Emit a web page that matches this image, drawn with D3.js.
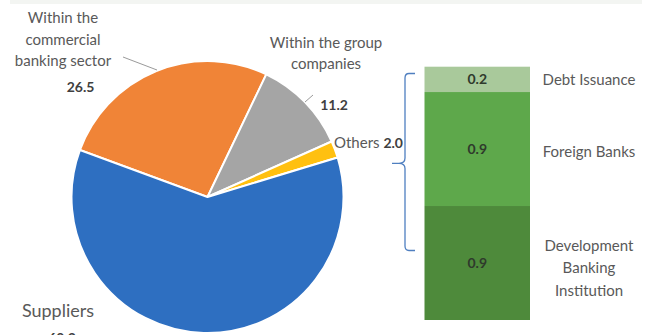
<!DOCTYPE html>
<html>
<head>
<meta charset="utf-8">
<script src="https://cdn.jsdelivr.net/npm/d3@7"></script>
<style>
  body { margin: 0; background: #fff; }
  svg { display: block; font-family: Lato, "Open Sans", sans-serif; }
</style>
</head>
<body>
<div id="chart"></div>
<script>
// pie data
const pieNames = ["Within the commercial banking sector", "Within the group companies", "Others", "Suppliers"];
const pieValues = [26.5, 11.2, 2.0, 60.3];
const pieColors = ["#F08437", "#A5A5A5", "#FFC010", "#2E6FC1"];

// stacked bar data (bottom to top)
const barNames = ["Development Banking Institution", "Foreign Banks", "Debt Issuance"];
const barValues = [0.9, 0.9, 0.2];
const barColors = ["#4E8A3B", "#5EA84B", "#A9C99B"];

const width = 652, height = 335;

const svg = d3.select("#chart").append("svg")
    .attr("width", width)
    .attr("height", height);

// faint strip at the very top
svg.append("rect")
    .attr("x", 10).attr("y", 0).attr("width", 632).attr("height", 4)
    .attr("fill", "#f3f5f2");

// ---- pie ----
const cx = 207.5, cy = 197, radius = 136;
const startDeg = -69.8;

const pie = d3.pie()
    .sort(null)
    .value(d => d.value)
    .startAngle(startDeg * Math.PI / 180)
    .endAngle(startDeg * Math.PI / 180 + 2 * Math.PI);

const arc = d3.arc().innerRadius(0).outerRadius(radius);

const pieData = pie(pieNames.map((n, i) => ({ name: n, value: pieValues[i], color: pieColors[i] })));

const pieG = svg.append("g").attr("transform", `translate(${cx},${cy})`);
pieG.selectAll("path")
    .data(pieData)
    .join("path")
    .attr("d", arc)
    .attr("fill", d => d.data.color)
    .attr("stroke", "#fff")
    .attr("stroke-width", 2)
    .attr("stroke-linejoin", "round");

// pie labels (placed the way the original chart had them)
const labelColor = "#595959";
const valueColor = "#404040";

function multiLine(lines, x, y0, lh, size) {
    const t = svg.append("text")
        .attr("text-anchor", "middle")
        .attr("font-size", size)
        .attr("fill", labelColor);
    lines.forEach((l, i) => {
        t.append("tspan").attr("x", x).attr("y", y0 + i * lh).text(l);
    });
}

multiLine(["Within the", "commercial", "banking sector"], 63, 23, 21.7, 15);
svg.append("text")
    .attr("x", 80.5).attr("y", 92)
    .attr("text-anchor", "middle")
    .attr("font-size", 14).attr("font-weight", "bold")
    .attr("fill", valueColor)
    .text(d3.format(".1f")(pieValues[0]));
svg.append("line")
    .attr("x1", 123).attr("y1", 57).attr("x2", 157).attr("y2", 70)
    .attr("stroke", "#9a9a9a").attr("stroke-width", 1);

multiLine(["Within the group", "companies"], 326, 48, 20.5, 15);
svg.append("text")
    .attr("x", 334).attr("y", 110)
    .attr("text-anchor", "middle")
    .attr("font-size", 14).attr("font-weight", "bold")
    .attr("fill", valueColor)
    .text(d3.format(".1f")(pieValues[1]));
svg.append("line")
    .attr("x1", 305).attr("y1", 102).attr("x2", 313).attr("y2", 95)
    .attr("stroke", "#9a9a9a").attr("stroke-width", 1);

const othersT = svg.append("text")
    .attr("x", 334).attr("y", 148)
    .attr("font-size", 15)
    .attr("fill", labelColor);
othersT.append("tspan").text(pieNames[2] + " ");
othersT.append("tspan")
    .attr("font-weight", "bold").attr("font-size", 14).attr("fill", valueColor)
    .text(d3.format(".1f")(pieValues[2]));

svg.append("text")
    .attr("x", 58).attr("y", 317)
    .attr("text-anchor", "middle")
    .attr("font-size", 18)
    .attr("fill", labelColor)
    .text(pieNames[3]);
svg.append("text")
    .attr("x", 62).attr("y", 343)
    .attr("text-anchor", "middle")
    .attr("font-size", 14).attr("font-weight", "bold")
    .attr("fill", valueColor)
    .text(d3.format(".1f")(pieValues[3]));

// ---- stacked bar ----
const total = d3.sum(barValues);
const y = d3.scaleLinear().domain([0, total]).range([320, 66.7]);
const barX = 424.5, barW = 105.5;

let acc = 0;
const segs = barValues.map((v, i) => {
    const s = { name: barNames[i], value: v, color: barColors[i], y0: acc, y1: acc + v };
    acc += v;
    return s;
});

svg.selectAll("rect.seg")
    .data(segs)
    .join("rect")
    .attr("class", "seg")
    .attr("x", barX)
    .attr("y", d => y(d.y1))
    .attr("width", barW)
    .attr("height", d => y(d.y0) - y(d.y1))
    .attr("fill", d => d.color);

svg.selectAll("text.segval")
    .data(segs)
    .join("text")
    .attr("class", "segval")
    .attr("x", barX + barW / 2)
    .attr("y", d => (y(d.y0) + y(d.y1)) / 2 + 5)
    .attr("text-anchor", "middle")
    .attr("font-size", 14).attr("font-weight", "bold")
    .attr("fill", "#2f3a2c")
    .text(d => d3.format(".1f")(d.value));

// category names to the right of the bar
const nameLines = [["Development", "Banking", "Institution"], ["Foreign Banks"], ["Debt Issuance"]];
const nameShift = [5, 3, 1];
segs.forEach((d, i) => {
    const lines = nameLines[i];
    const mid = (y(d.y0) + y(d.y1)) / 2 + nameShift[i];
    const lh = 22.5;
    const t = svg.append("text")
        .attr("text-anchor", "middle")
        .attr("font-size", 15)
        .attr("fill", labelColor);
    lines.forEach((l, j) => {
        t.append("tspan")
            .attr("x", 589)
            .attr("y", mid + (j - (lines.length - 1) / 2) * lh + 5)
            .text(l);
    });
});

// brace joining "Others" to the bar
const bp = d3.path();
bp.moveTo(415, 73.5);
bp.lineTo(409, 73.5);
bp.quadraticCurveTo(405, 73.5, 405, 78);
bp.lineTo(405, 158);
bp.quadraticCurveTo(405, 163.3, 399, 163.3);
bp.lineTo(392, 163.3);
bp.moveTo(399, 163.3);
bp.quadraticCurveTo(405, 163.3, 405, 168.5);
bp.lineTo(405, 246);
bp.quadraticCurveTo(405, 250.5, 409, 250.5);
bp.lineTo(415, 250.5);
svg.append("path")
    .attr("d", bp.toString())
    .attr("fill", "none")
    .attr("stroke", "#4F7FC0")
    .attr("stroke-width", 1.3);
</script>
</body>
</html>
